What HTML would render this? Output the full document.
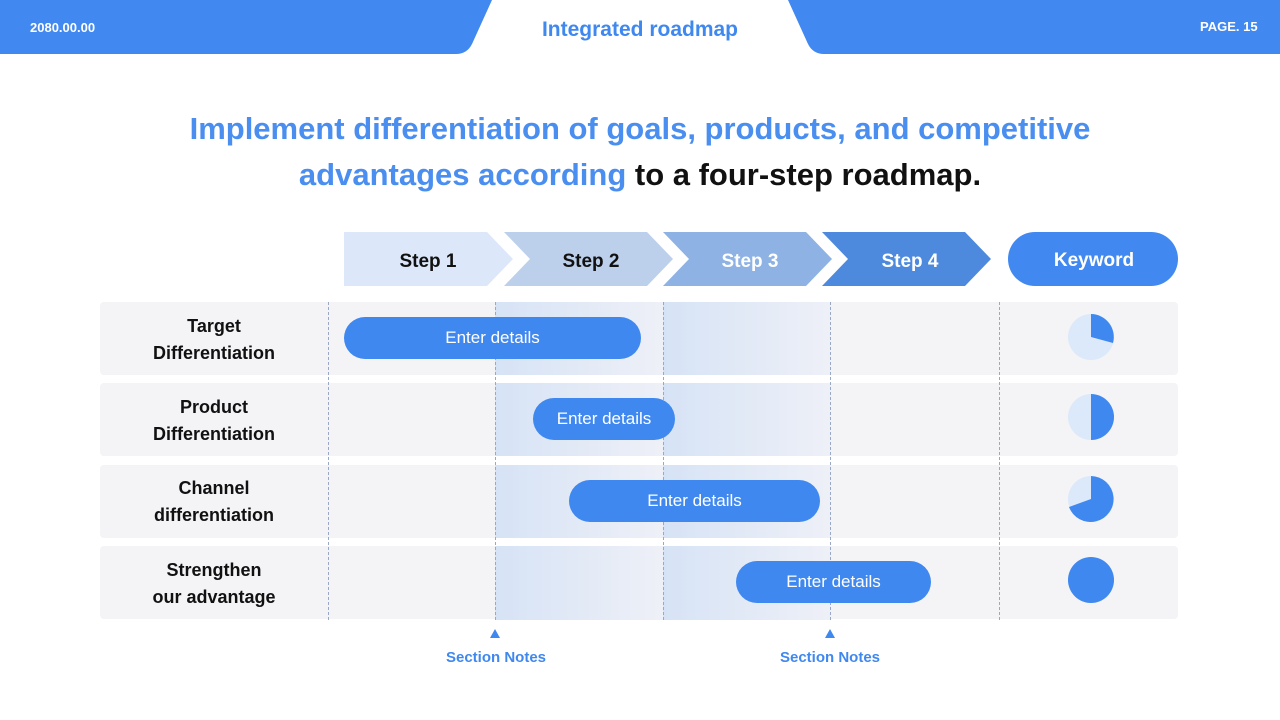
<!DOCTYPE html>
<html><head><meta charset="utf-8"><style>
body{margin:0;width:1280px;height:720px;background:#fff;font-family:"Liberation Sans",sans-serif;position:relative;overflow:hidden}
.a{position:absolute}
.row{position:absolute;left:100px;width:1078px;height:73px;background:#f4f4f7;border-radius:4px}
.col{position:absolute;width:168px;background:linear-gradient(90deg,#d6e3f6,#eef0f7)}
.vl{position:absolute;top:302px;height:318px;border-left:1px dashed #9aa8c8}
.lab{position:absolute;left:100px;width:228px;text-align:center;font-weight:bold;font-size:18px;color:#111;line-height:27px}
.pill{position:absolute;height:42px;border-radius:21px;background:#3f88ef;color:#fff;font-size:17px;text-align:center;line-height:42px}
.note{position:absolute;top:649px;width:160px;text-align:center;color:#3f88ef;font-weight:bold;font-size:15px}
</style></head><body>
<svg class="a" style="left:0;top:0" width="1280" height="60">
<path d="M0 0H492L472 44Q467 54 456 54H0Z" fill="#4189f0"/>
<path d="M1280 0H788L808 44Q813 54 824 54H1280Z" fill="#4189f0"/>
</svg>
<div class="a" style="left:30px;top:20px;color:#fff;font-weight:bold;font-size:13px">2080.00.00</div>
<div class="a" style="left:1200px;top:19px;color:#fff;font-weight:bold;font-size:13px">PAGE. 15</div>
<div class="a" style="left:490px;width:300px;top:18px;text-align:center;color:#3f88ef;font-weight:bold;font-size:21px">Integrated roadmap</div>
<div class="a" style="left:0;width:1280px;top:106px;text-align:center;font-weight:bold;font-size:31px;line-height:46px;color:#4a8ef0">Implement differentiation of goals, products, and competitive<br>advantages according <span style="color:#111">to a four-step roadmap.</span></div>
<svg class="a" style="left:0;top:0" width="1280" height="300">
<polygon points="344,232 487,232 513,259 487,286 344,286" fill="#dce8f9"/>
<polygon points="504,232 647,232 673,259 647,286 504,286 530,259" fill="#bcd0ec"/>
<polygon points="663,232 806,232 832,259 806,286 663,286 689,259" fill="#8db2e3"/>
<polygon points="822,232 965,232 991,259 965,286 822,286 848,259" fill="#4d89dd"/>
<rect x="1008" y="232" width="170" height="54" rx="27" fill="#4189f0"/>
<g font-family="Liberation Sans" font-weight="bold" font-size="19" text-anchor="middle">
<text x="428" y="267" fill="#111">Step 1</text>
<text x="591" y="267" fill="#111">Step 2</text>
<text x="750" y="267" fill="#fff">Step 3</text>
<text x="910" y="267" fill="#fff">Step 4</text>
<text x="1094" y="266" fill="#fff">Keyword</text></g>
</svg>
<div class="row" style="top:302px"></div><div class="row" style="top:383px"></div><div class="row" style="top:465px"></div><div class="row" style="top:546px"></div>
<div class="col" style="left:495px;top:302px;height:318px"></div>
<div class="col" style="left:663px;top:302px;height:318px"></div>
<div class="a" style="left:495px;top:375px;width:336px;height:8px;background:#fff"></div>
<div class="a" style="left:495px;top:456px;width:336px;height:9px;background:#fff"></div>
<div class="a" style="left:495px;top:538px;width:336px;height:8px;background:#fff"></div>
<div class="vl" style="left:328px"></div><div class="vl" style="left:495px"></div><div class="vl" style="left:663px"></div><div class="vl" style="left:830px"></div><div class="vl" style="left:999px"></div>
<div class="lab" style="top:313px">Target<br>Differentiation</div>
<div class="lab" style="top:394px">Product<br>Differentiation</div>
<div class="lab" style="top:475px">Channel<br>differentiation</div>
<div class="lab" style="top:557px">Strengthen<br>our advantage</div>
<div class="pill" style="left:344px;top:317px;width:297px">Enter details</div>
<div class="pill" style="left:533px;top:398px;width:142px">Enter details</div>
<div class="pill" style="left:569px;top:480px;width:251px">Enter details</div>
<div class="pill" style="left:736px;top:561px;width:195px">Enter details</div>
<svg class="a" style="left:0;top:0" width="1280" height="720">
<circle cx="1091" cy="337" r="23" fill="#dce9fa"/><path d="M1091 337V314A23 23 0 0 1 1113 343Z" fill="#3f88ef"/>
<circle cx="1091" cy="417" r="23" fill="#dce9fa"/><path d="M1091 417V394A23 23 0 0 1 1091 440Z" fill="#3f88ef"/>
<circle cx="1091" cy="499" r="23" fill="#dce9fa"/><path d="M1091 499V476A23 23 0 1 1 1069 507Z" fill="#3f88ef"/>
<circle cx="1091" cy="580" r="23" fill="#3f88ef"/>
<polygon points="495,629 500,638 490,638" fill="#3f88ef"/>
<polygon points="830,629 835,638 825,638" fill="#3f88ef"/>
</svg>
<div class="note" style="left:416px">Section Notes</div>
<div class="note" style="left:750px">Section Notes</div>
</body></html>
